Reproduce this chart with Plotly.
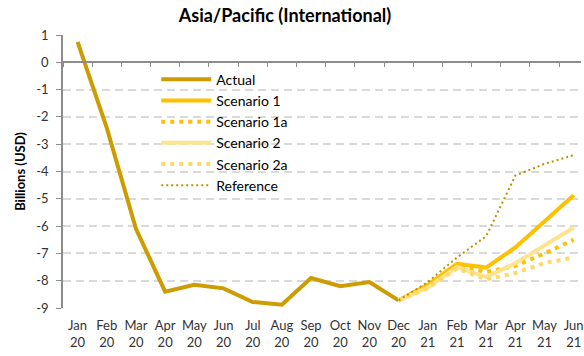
import plotly.graph_objects as go

# Month categories, Jan 2020 .. Jun 2021
months = ["Jan<br>20", "Feb<br>20", "Mar<br>20", "Apr<br>20", "May<br>20", "Jun<br>20",
          "Jul<br>20", "Aug<br>20", "Sep<br>20", "Oct<br>20", "Nov<br>20", "Dec<br>20",
          "Jan<br>21", "Feb<br>21", "Mar<br>21", "Apr<br>21", "May<br>21", "Jun<br>21"]

# Billions (USD)
actual = [0.75, -2.4, -6.1, -8.4, -8.15, -8.28, -8.78, -8.88, -7.9, -8.2, -8.05, -8.72]
scenario1 = [-8.72, -8.15, -7.38, -7.52, -6.78, -5.84, -4.87]
scenario1a = [-8.72, -8.2, -7.45, -7.68, -7.46, -7.0, -6.5]
scenario2 = [-8.72, -8.25, -7.5, -7.87, -7.36, -6.72, -6.05]
scenario2a = [-8.72, -8.27, -7.55, -7.95, -7.72, -7.35, -7.15]
reference = [-8.72, -8.05, -7.15, -6.37, -4.15, -3.72, -3.4]

# y-axis ticks, written with a plain hyphen for negatives
y_ticks = list(range(1, -10, -1))
y_tick_text = [str(v) for v in y_ticks]

forecast_months = months[11:]

FONT = "Lato"

series = [
    ("Actual", months[:12], actual, dict(color="#CC9C00", width=4)),
    ("Scenario 1", forecast_months, scenario1, dict(color="#FFC000", width=4)),
    ("Scenario 1a", forecast_months, scenario1a, dict(color="#FFC000", width=4, dash="4px,5px")),
    ("Scenario 2", forecast_months, scenario2, dict(color="#FFE38F", width=4)),
    ("Scenario 2a", forecast_months, scenario2a, dict(color="#FFD966", width=4, dash="4px,5px")),
    ("Reference", forecast_months, reference, dict(color="#C09000", width=2, dash="2px,3px")),
]

fig = go.Figure()
for name, xs, ys, line in series:
    fig.add_trace(go.Scatter(x=xs, y=ys, name=name, mode="lines", line=line))

# invisible trace so the secondary axis (tick marks along y = 0) is drawn
fig.add_trace(go.Scatter(x=months, y=[None] * len(months), xaxis="x2",
                         showlegend=False, hoverinfo="skip"))

x_range = [-0.5, 17.25]

fig.update_layout(
    width=584, height=356,
    margin=dict(l=63, r=0, t=35, b=48),
    plot_bgcolor="white", paper_bgcolor="white",
    font=dict(family=FONT, size=13, color="#333333"),
    title=dict(text="<b>Asia/Pacific (International)</b>", x=0.488, xref="container",
               y=0.955, yref="container", xanchor="center", yanchor="middle",
               font=dict(family=FONT, size=18, color="#000000")),
    showlegend=True,
    legend=dict(x=0.18, y=0.895, xanchor="left", yanchor="top", bgcolor="rgba(0,0,0,0)",
                font=dict(family=FONT, size=14, color="#000000"),
                tracegroupgap=0, itemwidth=50),
    xaxis=dict(type="category", categoryorder="array", categoryarray=months,
               range=x_range, showgrid=False, showline=False, ticks="",
               ticklabelstandoff=8,
               tickfont=dict(family=FONT, size=13, color="#333333")),
    xaxis2=dict(type="category", categoryorder="array", categoryarray=months,
                range=x_range, overlaying="x", anchor="free", position=0.9,
                side="bottom", showticklabels=False, showgrid=False,
                showline=True, linecolor="#8C8C8C", linewidth=1.5,
                ticks="outside", ticklen=4, tickcolor="#8C8C8C", tickwidth=1,
                tickson="boundaries"),
    yaxis=dict(range=[-9, 1], tickmode="array", tickvals=y_ticks, ticktext=y_tick_text,
               showgrid=True, gridcolor="#D9D9D9",
               griddash="8px,5px", gridwidth=1.5, zeroline=False,
               showline=True, linecolor="#8C8C8C", linewidth=1.5,
               ticks="outside", ticklen=5, tickcolor="#8C8C8C",
               ticklabelstandoff=5,
               tickfont=dict(family=FONT, size=13, color="#333333"),
               title=dict(text="<b>Billions (USD)</b>", standoff=8,
                          font=dict(family=FONT, size=13, color="#000000"))),
)

fig.write_html("out.html")
